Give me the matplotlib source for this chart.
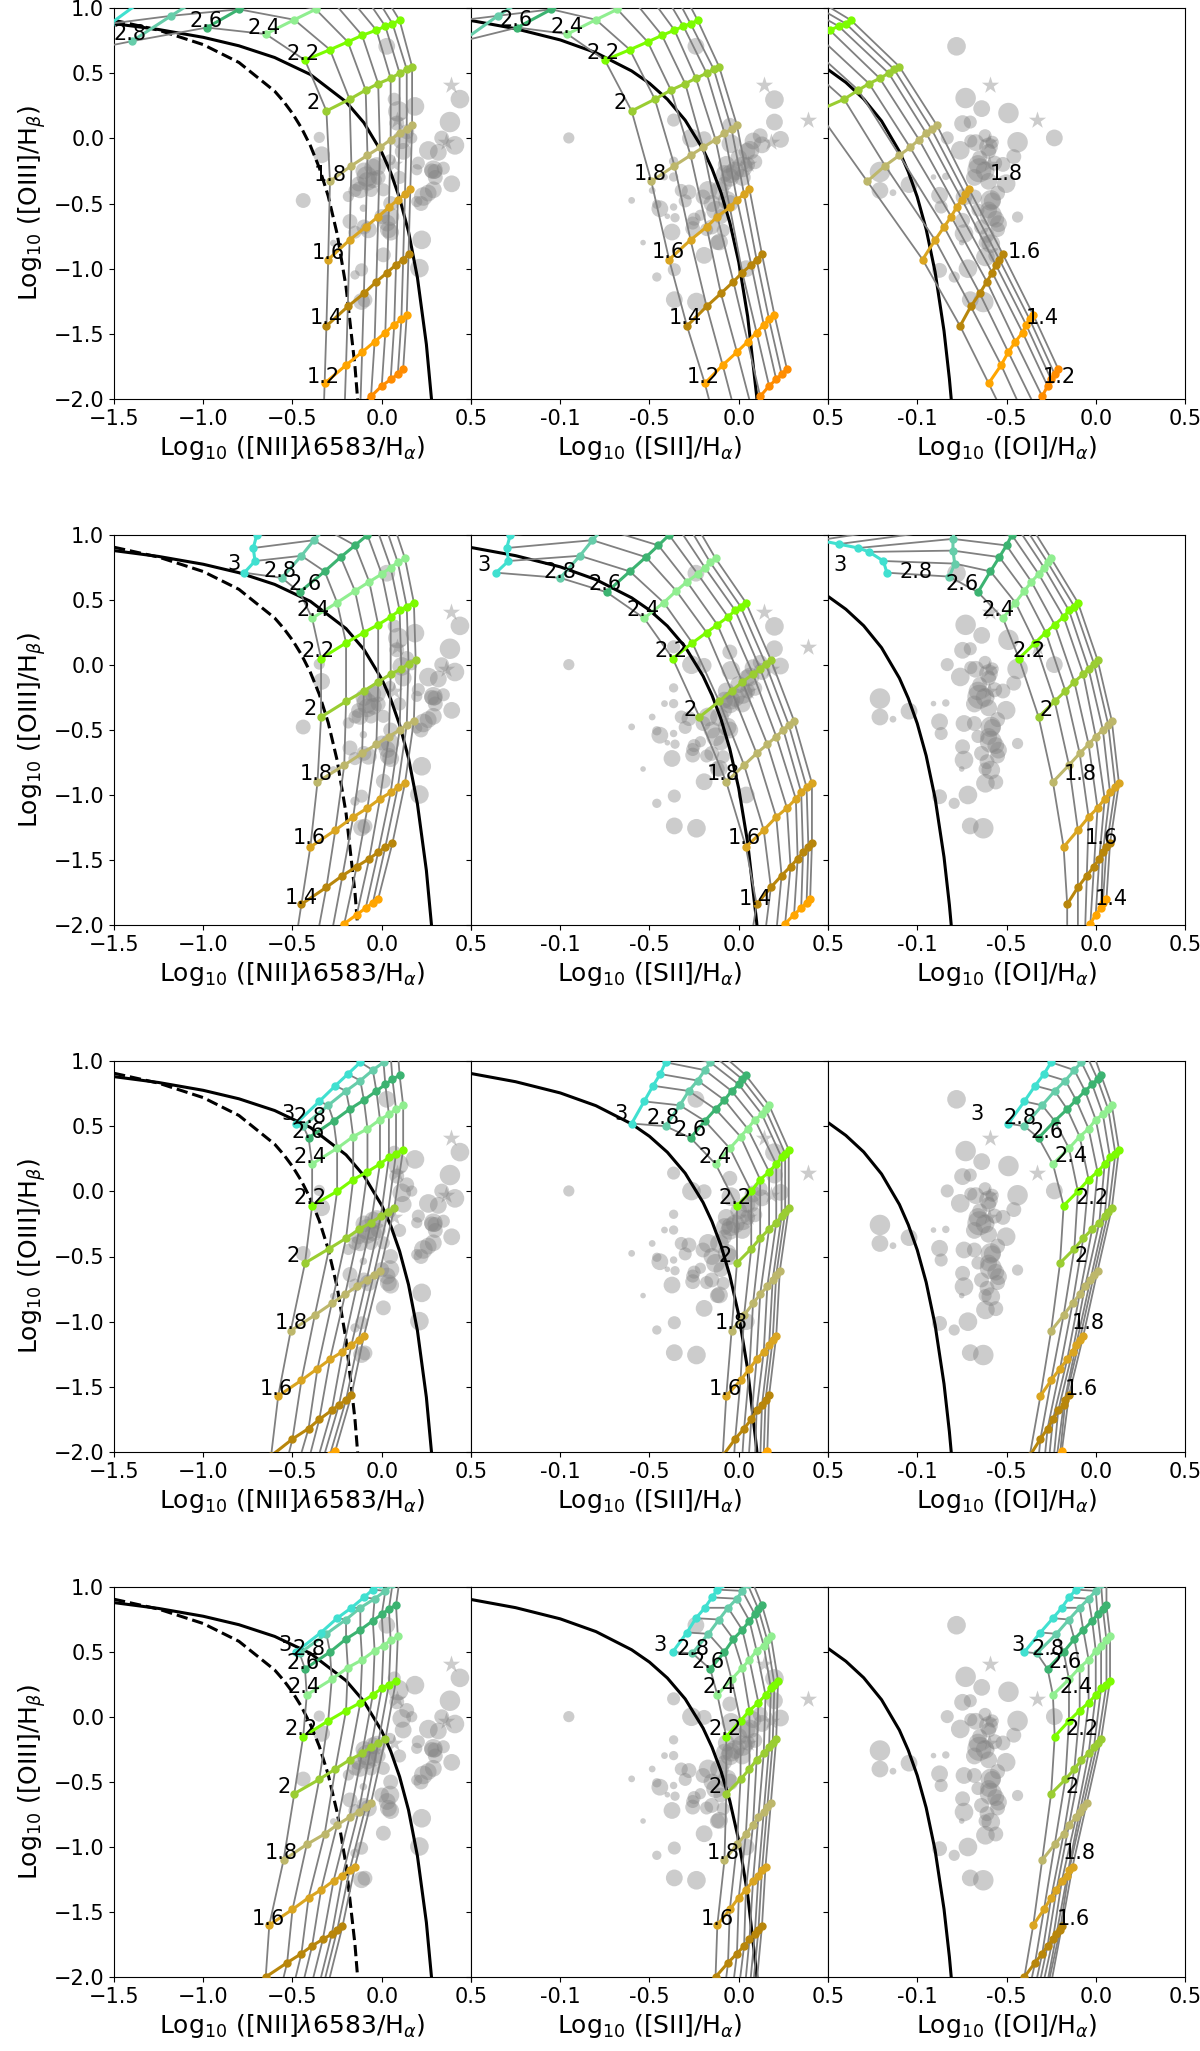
import matplotlib
matplotlib.use('Agg')
import matplotlib.pyplot as plt

curve_colors = ['darkorange', 'orange', 'darkgoldenrod', 'goldenrod', 'darkkhaki', 'yellowgreen',
                'lawngreen', 'lightgreen', 'mediumseagreen', 'mediumaquamarine', 'turquoise']
value_labels = ['1.2', '1.4', '1.6', '1.8', '2', '2.2', '2.4', '2.6', '2.8', '3']
label_start = [0, 1, 2, 2]

# model grids: one list per colored curve, same index = same grey track
r1_y = [[-2.30,-2.16,-2.06,-1.98,-1.90,-1.85,-1.81,-1.77],
        [-1.88,-1.74,-1.64,-1.56,-1.49,-1.43,-1.39,-1.355],
        [-1.44,-1.29,-1.19,-1.10,-1.03,-0.97,-0.93,-0.89],
        [-0.93,-0.78,-0.68,-0.60,-0.53,-0.47,-0.43,-0.39],
        [-0.33,-0.21,-0.13,-0.07,-0.01,0.04,0.07,0.10],
        [0.21,0.30,0.37,0.42,0.46,0.50,0.53,0.55],
        [0.60,0.68,0.74,0.79,0.83,0.86,0.88,0.905],
        [0.80,0.91,0.99,1.06,1.11,1.16,1.19,1.22],
        [0.85,0.99,1.08,1.16,1.22,1.28,1.32,1.35],
        [0.745,0.94,1.07,1.18,1.27,1.35,1.40,1.45],
        [0.65,0.88,1.04,1.17,1.28,1.37,1.44,1.50]]
r1_nii_x = [[-0.33,-0.21,-0.12,-0.06,0.0,0.05,0.09,0.12],
            [-0.32,-0.20,-0.11,-0.04,0.02,0.07,0.11,0.14],
            [-0.31,-0.19,-0.10,-0.03,0.03,0.08,0.12,0.15],
            [-0.30,-0.18,-0.09,-0.02,0.04,0.09,0.13,0.16],
            [-0.29,-0.17,-0.08,-0.01,0.05,0.10,0.14,0.17],
            [-0.31,-0.18,-0.09,-0.02,0.05,0.10,0.14,0.17],
            [-0.43,-0.29,-0.19,-0.11,-0.03,0.02,0.06,0.10],
            [-0.65,-0.49,-0.37,-0.28,-0.20,-0.13,-0.08,-0.04],
            [-0.98,-0.80,-0.67,-0.57,-0.47,-0.40,-0.35,-0.30],
            [-1.40,-1.18,-1.03,-0.91,-0.80,-0.72,-0.66,-0.60],
            [-1.75,-1.52,-1.36,-1.23,-1.12,-1.03,-0.96,-0.90]]
r1_sii_x = [[-0.11,-0.01,0.07,0.12,0.17,0.21,0.24,0.27],
            [-0.19,-0.09,-0.01,0.05,0.10,0.14,0.17,0.20],
            [-0.29,-0.18,-0.10,-0.03,0.02,0.07,0.10,0.13],
            [-0.39,-0.27,-0.18,-0.12,-0.05,-0.01,0.03,0.06],
            [-0.49,-0.36,-0.27,-0.20,-0.13,-0.08,-0.04,-0.01],
            [-0.60,-0.47,-0.38,-0.30,-0.24,-0.18,-0.14,-0.11],
            [-0.75,-0.61,-0.51,-0.43,-0.36,-0.31,-0.27,-0.23],
            [-0.96,-0.80,-0.68,-0.59,-0.51,-0.44,-0.39,-0.35],
            [-1.24,-1.05,-0.92,-0.82,-0.73,-0.65,-0.60,-0.55],
            [-1.55,-1.35,-1.20,-1.09,-0.99,-0.91,-0.85,-0.80],
            [-1.90,-1.71,-1.58,-1.47,-1.38,-1.31,-1.25,-1.20]]
r1_oi_x = [[-0.45,-0.39,-0.34,-0.30,-0.27,-0.25,-0.23,-0.21],
           [-0.60,-0.53,-0.49,-0.45,-0.41,-0.39,-0.37,-0.35],
           [-0.76,-0.70,-0.65,-0.61,-0.58,-0.56,-0.54,-0.52],
           [-0.97,-0.90,-0.85,-0.81,-0.78,-0.75,-0.73,-0.71],
           [-1.28,-1.18,-1.10,-1.04,-0.99,-0.95,-0.92,-0.89],
           [-1.56,-1.41,-1.33,-1.27,-1.21,-1.16,-1.13,-1.10],
           [-1.85,-1.72,-1.63,-1.56,-1.49,-1.44,-1.40,-1.37],
           [-2.30,-2.15,-2.05,-1.96,-1.89,-1.83,-1.79,-1.75]]

r2_y = [[-2.28,-2.15,-2.06,-1.99,-1.92,-1.87,-1.83,-1.80],
        [-1.84,-1.71,-1.62,-1.55,-1.49,-1.44,-1.40,-1.37],
        [-1.40,-1.27,-1.17,-1.10,-1.03,-0.98,-0.94,-0.91],
        [-0.90,-0.77,-0.68,-0.61,-0.55,-0.50,-0.46,-0.43],
        [-0.40,-0.28,-0.20,-0.13,-0.07,-0.03,0.01,0.04],
        [0.05,0.17,0.25,0.31,0.37,0.42,0.45,0.48],
        [0.36,0.48,0.57,0.64,0.70,0.75,0.79,0.82],
        [0.56,0.72,0.83,0.92,1.00,1.06,1.11,1.15],
        [0.67,0.84,0.96,1.05,1.14,1.20,1.26,1.30],
        [0.71,0.80,0.90,1.00,1.10,1.20,1.30,1.40]]
r2_oi_y = r2_y[:8] + [[0.68,0.78,0.88,0.97,1.05,1.12,1.17,1.20],
                      [0.71,0.80,0.87,0.90,0.93,0.96,0.99,1.02]]
r2_nii_x = [[-0.50,-0.37,-0.28,-0.21,-0.14,-0.09,-0.05,-0.02],
            [-0.45,-0.31,-0.22,-0.14,-0.07,-0.02,0.02,0.06],
            [-0.40,-0.26,-0.16,-0.08,-0.01,0.05,0.09,0.13],
            [-0.36,-0.21,-0.11,-0.03,0.04,0.10,0.14,0.18],
            [-0.34,-0.20,-0.10,-0.02,0.05,0.11,0.15,0.19],
            [-0.34,-0.20,-0.10,-0.02,0.05,0.10,0.14,0.18],
            [-0.39,-0.25,-0.15,-0.07,0.0,0.05,0.09,0.13],
            [-0.46,-0.32,-0.23,-0.15,-0.08,-0.03,0.01,0.05],
            [-0.56,-0.45,-0.38,-0.32,-0.27,-0.23,-0.20,-0.17],
            [-0.77,-0.71,-0.72,-0.70,-0.66,-0.62,-0.58,-0.55]]
r2_sii_x = [[0.05,0.14,0.21,0.26,0.31,0.35,0.38,0.40],
            [0.10,0.18,0.24,0.29,0.33,0.36,0.39,0.41],
            [0.04,0.14,0.21,0.27,0.32,0.35,0.38,0.41],
            [-0.07,0.03,0.10,0.16,0.21,0.25,0.28,0.31],
            [-0.22,-0.11,-0.04,0.02,0.08,0.12,0.15,0.18],
            [-0.37,-0.26,-0.18,-0.12,-0.06,-0.02,0.01,0.04],
            [-0.53,-0.42,-0.35,-0.29,-0.23,-0.19,-0.16,-0.13],
            [-0.74,-0.61,-0.52,-0.45,-0.39,-0.34,-0.30,-0.27],
            [-1.00,-0.89,-0.82,-0.76,-0.70,-0.66,-0.63,-0.60],
            [-1.36,-1.29,-1.30,-1.28,-1.26,-1.24,-1.22,-1.20]]
r2_oi_x = [[-0.16,-0.10,-0.06,-0.03,0.0,0.03,0.04,0.06],
           [-0.16,-0.10,-0.05,-0.01,0.02,0.04,0.06,0.08],
           [-0.18,-0.10,-0.04,0.01,0.05,0.08,0.11,0.13],
           [-0.24,-0.15,-0.09,-0.04,0.0,0.04,0.07,0.09],
           [-0.32,-0.23,-0.17,-0.12,-0.07,-0.04,-0.01,0.01],
           [-0.43,-0.34,-0.28,-0.23,-0.18,-0.15,-0.12,-0.10],
           [-0.52,-0.45,-0.40,-0.36,-0.32,-0.29,-0.27,-0.25],
           [-0.66,-0.59,-0.54,-0.50,-0.47,-0.44,-0.42,-0.40],
           [-0.82,-0.79,-0.80,-0.80,-0.79,-0.78,-0.77,-0.76],
           [-1.17,-1.19,-1.27,-1.33,-1.44,-1.55,-1.65,-1.75]]

r3_y = [[-2.45,-2.33,-2.24,-2.17,-2.11,-2.06,-2.02,-1.99],
        [-2.03,-1.90,-1.82,-1.75,-1.68,-1.64,-1.60,-1.565],
        [-1.57,-1.45,-1.36,-1.29,-1.23,-1.18,-1.14,-1.11],
        [-1.07,-0.95,-0.86,-0.79,-0.73,-0.68,-0.64,-0.61],
        [-0.55,-0.44,-0.36,-0.29,-0.24,-0.19,-0.16,-0.13],
        [-0.11,0.0,0.09,0.15,0.21,0.26,0.29,0.32],
        [0.21,0.33,0.42,0.48,0.55,0.59,0.63,0.66],
        [0.41,0.54,0.63,0.70,0.77,0.82,0.86,0.89],
        [0.50,0.66,0.77,0.85,0.93,0.99,1.04,1.08],
        [0.52,0.69,0.81,0.90,0.99,1.06,1.11,1.15]]
r3_nii_x = [[-0.70,-0.58,-0.50,-0.43,-0.37,-0.33,-0.29,-0.26],
            [-0.62,-0.50,-0.41,-0.35,-0.28,-0.24,-0.20,-0.17],
            [-0.58,-0.45,-0.36,-0.29,-0.22,-0.17,-0.13,-0.10],
            [-0.51,-0.375,-0.28,-0.205,-0.14,-0.085,-0.045,-0.01],
            [-0.43,-0.295,-0.20,-0.125,-0.06,-0.005,0.035,0.07],
            [-0.39,-0.25,-0.16,-0.08,-0.01,0.04,0.08,0.12],
            [-0.39,-0.25,-0.16,-0.08,-0.01,0.04,0.08,0.12],
            [-0.41,-0.27,-0.18,-0.10,-0.03,0.02,0.06,0.10],
            [-0.44,-0.30,-0.20,-0.12,-0.05,0.01,0.05,0.09],
            [-0.48,-0.35,-0.26,-0.19,-0.12,-0.07,-0.03,0.0]]
r3_sii_x = [[-0.12,-0.04,0.01,0.05,0.09,0.12,0.14,0.16],
            [-0.09,-0.02,0.03,0.07,0.10,0.13,0.15,0.17],
            [-0.07,0.01,0.06,0.10,0.14,0.17,0.19,0.21],
            [-0.04,0.03,0.08,0.12,0.16,0.19,0.21,0.23],
            [-0.01,0.07,0.12,0.17,0.21,0.24,0.26,0.28],
            [-0.01,0.07,0.12,0.17,0.21,0.24,0.26,0.28],
            [-0.13,-0.05,0.01,0.05,0.09,0.13,0.15,0.17],
            [-0.27,-0.19,-0.13,-0.08,-0.04,0.0,0.02,0.04],
            [-0.41,-0.33,-0.28,-0.23,-0.19,-0.16,-0.14,-0.12],
            [-0.60,-0.53,-0.48,-0.44,-0.41,-0.38,-0.36,-0.34]]
r3_oi_x = [[-0.40,-0.34,-0.30,-0.27,-0.24,-0.22,-0.20,-0.19],
           [-0.37,-0.31,-0.27,-0.24,-0.21,-0.18,-0.17,-0.15],
           [-0.31,-0.25,-0.20,-0.16,-0.13,-0.11,-0.09,-0.07],
           [-0.25,-0.18,-0.13,-0.09,-0.06,-0.03,-0.01,0.01],
           [-0.20,-0.12,-0.07,-0.02,0.02,0.05,0.07,0.09],
           [-0.18,-0.10,-0.04,0.01,0.05,0.08,0.11,0.13],
           [-0.24,-0.15,-0.09,-0.04,0.0,0.04,0.07,0.09],
           [-0.32,-0.23,-0.16,-0.11,-0.06,-0.02,0.01,0.03],
           [-0.40,-0.30,-0.23,-0.17,-0.12,-0.08,-0.05,-0.02],
           [-0.49,-0.40,-0.34,-0.29,-0.25,-0.22,-0.19,-0.17]]

r4_y = [[-2.45,-2.34,-2.27,-2.21,-2.15,-2.11,-2.08,-2.05],
        [-2.00,-1.89,-1.82,-1.76,-1.71,-1.67,-1.64,-1.61],
        [-1.60,-1.48,-1.39,-1.33,-1.26,-1.22,-1.18,-1.15],
        [-1.10,-0.98,-0.90,-0.83,-0.77,-0.73,-0.69,-0.66],
        [-0.59,-0.48,-0.40,-0.33,-0.28,-0.23,-0.20,-0.17],
        [-0.15,-0.03,0.05,0.11,0.17,0.22,0.25,0.28],
        [0.17,0.29,0.38,0.44,0.51,0.55,0.59,0.62],
        [0.37,0.50,0.60,0.67,0.74,0.79,0.83,0.86],
        [0.49,0.64,0.75,0.84,0.91,0.97,1.02,1.06],
        [0.50,0.65,0.76,0.84,0.92,0.98,1.02,1.06]]
r4_nii_x = [[-0.73,-0.61,-0.53,-0.47,-0.41,-0.36,-0.33,-0.30],
            [-0.65,-0.53,-0.45,-0.39,-0.33,-0.28,-0.25,-0.22],
            [-0.63,-0.50,-0.41,-0.34,-0.27,-0.22,-0.18,-0.15],
            [-0.55,-0.42,-0.32,-0.25,-0.18,-0.13,-0.09,-0.06],
            [-0.49,-0.35,-0.26,-0.18,-0.11,-0.06,-0.02,0.02],
            [-0.44,-0.30,-0.20,-0.12,-0.05,0.0,0.04,0.08],
            [-0.42,-0.28,-0.19,-0.11,-0.04,0.01,0.05,0.09],
            [-0.43,-0.29,-0.20,-0.12,-0.05,0.0,0.04,0.08],
            [-0.46,-0.31,-0.20,-0.12,-0.04,0.02,0.06,0.10],
            [-0.48,-0.34,-0.25,-0.17,-0.10,-0.05,-0.01,0.03]]
r4_sii_x = [[-0.17,-0.10,-0.05,-0.01,0.03,0.06,0.08,0.10],
            [-0.13,-0.06,-0.01,0.03,0.06,0.09,0.11,0.13],
            [-0.12,-0.05,0.0,0.04,0.08,0.11,0.13,0.15],
            [-0.08,-0.01,0.04,0.08,0.11,0.14,0.16,0.18],
            [-0.07,0.01,0.06,0.10,0.14,0.17,0.19,0.21],
            [-0.07,0.01,0.06,0.11,0.15,0.18,0.20,0.22],
            [-0.12,-0.04,0.02,0.06,0.10,0.14,0.16,0.18],
            [-0.16,-0.08,-0.03,0.02,0.06,0.09,0.11,0.13],
            [-0.26,-0.17,-0.11,-0.06,-0.01,0.02,0.05,0.07],
            [-0.37,-0.29,-0.24,-0.19,-0.15,-0.12,-0.10,-0.08]]
r4_oi_x = [[-0.47,-0.41,-0.37,-0.34,-0.31,-0.28,-0.27,-0.25],
           [-0.40,-0.34,-0.30,-0.27,-0.24,-0.22,-0.20,-0.19],
           [-0.35,-0.29,-0.25,-0.22,-0.19,-0.16,-0.15,-0.13],
           [-0.30,-0.23,-0.18,-0.15,-0.11,-0.09,-0.07,-0.05],
           [-0.25,-0.17,-0.12,-0.08,-0.04,-0.01,0.01,0.03],
           [-0.23,-0.15,-0.09,-0.04,0.0,0.03,0.06,0.08],
           [-0.24,-0.15,-0.09,-0.04,0.0,0.03,0.06,0.08],
           [-0.27,-0.18,-0.12,-0.07,-0.02,0.01,0.04,0.06],
           [-0.33,-0.22,-0.15,-0.09,-0.04,0.0,0.03,0.06],
           [-0.40,-0.31,-0.24,-0.19,-0.15,-0.11,-0.08,-0.06]]

# label centres, same order as value_labels from label_start on
r1_nii_lx = [-0.33,-0.31,-0.30,-0.29,-0.385,-0.44,-0.66,-0.985,-1.41]
r1_nii_ly = [-1.83,-1.38,-0.88,-0.28,0.27,0.65,0.85,0.90,0.80]
r1_sii_lx = [-0.20,-0.297,-0.397,-0.498,-0.666,-0.761,-0.964,-1.247]
r1_sii_ly = [-1.83,-1.38,-0.875,-0.272,0.27,0.655,0.855,0.91]
r1_oi_lx = [-0.205,-0.298,-0.398,-0.501]
r1_oi_ly = [-1.83,-1.38,-0.873,-0.272]
r2_nii_lx = [-0.451,-0.404,-0.37,-0.404,-0.357,-0.387,-0.429,-0.571,-0.828]
r2_nii_ly = [-1.793,-1.333,-0.839,-0.335,0.107,0.425,0.624,0.72,0.778]
r2_sii_lx = [0.093,0.033,-0.087,-0.271,-0.378,-0.536,-0.75,-0.999,-1.427]
r2_sii_ly = [-1.798,-1.333,-0.841,-0.343,0.107,0.425,0.624,0.714,0.77]
r2_oi_lx = [0.089,0.033,-0.087,-0.279,-0.374,-0.545,-0.751,-1.007,-1.431]
r2_oi_ly = [-1.798,-1.333,-0.841,-0.343,0.107,0.425,0.624,0.714,0.77]
r3_nii_lx = [-0.592,-0.506,-0.498,-0.40,-0.40,-0.413,-0.40,-0.528]
r3_nii_ly = [-1.519,-1.014,-0.497,-0.049,0.265,0.457,0.573,0.59]
r3_sii_lx = [-0.078,-0.044,-0.074,-0.022,-0.13,-0.271,-0.425,-0.661]
r3_sii_ly = [-1.519,-1.014,-0.497,-0.049,0.265,0.47,0.56,0.59]
r3_oi_lx = [-0.082,-0.044,-0.082,-0.022,-0.138,-0.275,-0.425,-0.665]
r3_oi_ly = [-1.513,-1.007,-0.497,-0.049,0.273,0.457,0.56,0.59]
r4_nii_lx = [-0.635,-0.563,-0.545,-0.451,-0.434,-0.442,-0.408,-0.541]
r4_nii_ly = [-1.552,-1.048,-0.541,-0.095,0.232,0.419,0.526,0.552]
r4_sii_lx = [-0.121,-0.087,-0.13,-0.078,-0.108,-0.172,-0.258,-0.442]
r4_sii_ly = [-1.552,-1.048,-0.536,-0.095,0.232,0.424,0.521,0.552]
r4_oi_lx = [-0.125,-0.095,-0.13,-0.074,-0.108,-0.172,-0.267,-0.438]
r4_oi_ly = [-1.552,-1.048,-0.536,-0.095,0.232,0.424,0.521,0.552]

# observed galaxies, the same in every row
nii_obs_x = [0.438,0.382,0.41,0.336,0.261,0.317,0.205,0.196,0.289,0.345,0.298,0.392,0.289,0.233,0.196,0.186,0.093,0.084,0.112,0.168,0.028,0.224,0.211,-0.35,-0.337,-0.44,-0.113,-0.094,-0.15,-0.113,0.009,0.046,0.037,-0.075,-0.178,-0.028,-0.084,-0.047,-0.122,-0.187,0.009,0.046,-0.271,-0.103,
             -0.1,-0.08,-0.05,-0.02,-0.13,-0.06,-0.15,0.03,0.05,0.0,-0.1,-0.15,0.1,0.28,0.3,0.26,0.22,0.12,0.14,0.07,0.05]
nii_obs_y = [0.301,0.125,-0.054,0.002,-0.093,-0.108,-0.19,-0.241,-0.241,-0.229,-0.254,-0.349,-0.395,-0.446,-0.485,0.245,0.207,0.117,-0.011,0.002,0.706,-0.779,-0.996,0.007,-0.126,-0.477,-1.252,-1.24,-1.048,-1.009,-0.894,-0.6,-0.702,-0.702,-0.638,-0.216,-0.293,-0.318,-0.395,-0.446,-0.395,-0.165,-0.804,-0.536,
             -0.25,-0.33,-0.22,-0.3,-0.35,-0.4,-0.4,-0.65,-0.72,-0.6,-0.68,-0.72,-0.3,-0.25,-0.3,-0.42,-0.5,-0.1,0.05,0.3,-0.5]
nii_obs_s = [144,174,144,92,144,117,71,52,144,71,92,117,117,144,52,144,174,92,144,52,117,144,144,52,117,92,117,92,36,71,92,144,117,117,92,144,174,117,117,52,71,52,19,23,
             117,144,117,92,92,71,71,117,117,92,92,71,71,92,92,117,92,117,92,71,92]
sii_obs_x = [-0.952,0.2,0.2,0.234,-0.044,-0.194,-0.365,-0.365,-0.416,-0.485,-0.6,-0.442,-0.459,-0.365,-0.4,-0.357,-0.258,-0.215,-0.374,-0.258,-0.536,-0.194,-0.108,0.042,-0.459,-0.361,-0.361,-0.237,-0.13,-0.044,0.02,-0.172,-0.279,-0.108,-0.065,0.063,-0.151,-0.087,-0.322,-0.24,-0.365,-0.265,0.13,0.046,-0.08,
             -0.05,-0.02,0.02,-0.07,0.0,0.05,-0.08,-0.15,-0.1,-0.2,-0.05,-0.25,-0.18,-0.12,-0.3,0.08,0.12,0.09,-0.05]
sii_obs_y = [0.003,0.297,0.125,-0.008,-0.041,-0.003,-0.176,-0.297,-0.297,-0.4,-0.476,-0.54,-0.506,-0.527,-0.598,-0.609,-0.65,-0.59,-0.719,-0.693,-0.8,-0.898,-0.795,-1.0,-1.064,-1.008,-1.238,-1.256,-0.552,-0.271,-0.22,-0.399,-0.412,-0.4,-0.476,-0.092,-0.68,-0.706,-0.4,0.706,0.14,0.002,-0.05,-0.10,-0.27,
             -0.3,-0.25,-0.3,-0.2,-0.15,-0.2,-0.35,-0.5,-0.6,-0.45,-0.5,-0.62,-0.7,-0.8,-0.48,-0.02,0.02,-0.18,0.1]
sii_obs_s = [52,144,117,117,144,92,36,36,19,19,19,117,36,23,13,36,71,52,117,92,13,117,117,117,36,71,117,144,144,144,174,144,92,144,144,144,92,71,71,117,71,144,117,117,117,
             144,144,117,117,117,92,92,117,92,92,117,71,71,92,71,117,92,92,92]
oi_obs_x = [-0.729,-0.639,-0.489,-0.746,-0.703,-0.832,-0.232,-0.438,-0.459,-0.673,-0.601,-0.759,-0.652,-0.566,-0.502,-1.209,-1.209,-1.046,-1.136,-0.909,-0.84,-0.875,-0.738,-0.866,-0.588,-0.588,-0.746,-0.738,-0.438,-0.545,-0.609,-0.588,-0.751,-0.618,-0.716,-0.875,-0.793,-0.703,-0.63,-0.78,
            -0.66,-0.62,-0.68,-0.6,-0.65,-0.6,-0.7,-0.58,-0.6,-0.56,-0.64,-0.55,-0.68,-0.66,-0.62,-0.58,-0.52,-0.55,-0.62,-0.56]
oi_obs_y = [0.309,0.228,0.194,0.113,0.125,0.003,0.003,-0.03,-0.14,-0.033,-0.066,-0.092,-0.245,-0.19,-0.348,-0.258,-0.4,-0.355,-0.417,-0.297,-0.292,-0.437,-0.45,-0.527,-0.476,-0.59,-0.629,-0.731,-0.604,-0.655,-0.744,-0.808,-0.8,-0.91,-1.0,-1.013,-1.064,-1.238,-1.256,0.706,
            -0.2,-0.25,-0.3,-0.33,-0.15,-0.1,-0.02,-0.48,-0.55,-0.62,-0.68,-0.7,-0.45,-0.55,0.02,-0.03,-0.2,-0.42,-0.8,-0.9]
oi_obs_s = [174,117,174,117,71,71,117,174,92,117,144,144,240,92,144,174,117,117,19,13,23,117,117,71,174,200,92,144,52,117,92,144,13,144,144,92,52,117,174,144,
            144,144,117,117,92,92,71,117,117,117,92,92,92,71,71,71,92,92,71,92]
nii_star_x = [0.39,0.083,0.36,0.07]
sii_star_x = [0.14,0.39,0.178,0.05]
oi_star_x = [-0.59,-0.33,-0.60,-0.60]
star_y = [0.41,0.14,-0.03,-0.20]

# demarcation lines
kewley_x = [-1.5,-1.25,-1.0,-0.8,-0.6,-0.4,-0.2,-0.1,0.0,0.05,0.1,0.15,0.2,0.25,0.28]
kewley_y = [0.88,0.835,0.775,0.71,0.62,0.49,0.28,0.12,-0.108,-0.262,-0.459,-0.716,-1.07,-1.58,-2.02]
kauffmann_x = [-1.5,-1.25,-1.0,-0.8,-0.6,-0.55,-0.5,-0.45,-0.4,-0.35,-0.3,-0.25,-0.2,-0.15,-0.13]
kauffmann_y = [0.906,0.83,0.719,0.582,0.362,0.283,0.191,0.08,-0.056,-0.225,-0.443,-0.733,-1.14,-1.75,-2.09]
sii_line_x = [-1.5,-1.25,-1.0,-0.8,-0.6,-0.5,-0.4,-0.3,-0.2,-0.15,-0.1,-0.05,0.0,0.05,0.1,0.105]
sii_line_y = [0.904,0.841,0.755,0.657,0.517,0.422,0.3,0.139,-0.085,-0.232,-0.414,-0.646,-0.95,-1.367,-1.973,-2.05]
oi_line_x = [-1.5,-1.4,-1.3,-1.2,-1.1,-1.05,-1.0,-0.95,-0.9,-0.85,-0.82,-0.8]
oi_line_y = [0.528,0.429,0.302,0.133,-0.101,-0.257,-0.45,-0.698,-1.025,-1.478,-1.844,-2.146]

x_ticks = [-1.5,-1.0,-0.5,0.0,0.5]
x_ticklabels_right = ['', '-0.1', '-0.5', '0.0', '0.5']
x_titles = [r'Log$_{10}$ ([NII]$\lambda$6583/H$_{\alpha}$)', r'Log$_{10}$ ([SII]/H$_{\alpha}$)', r'Log$_{10}$ ([OI]/H$_{\alpha}$)']

rows = [
    (0, [r1_nii_x, r1_sii_x, r1_oi_x], [r1_y, r1_y, r1_y],
     [(r1_nii_lx, r1_nii_ly), (r1_sii_lx, r1_sii_ly), (r1_oi_lx, r1_oi_ly)]),
    (1, [r2_nii_x, r2_sii_x, r2_oi_x], [r2_y, r2_y, r2_oi_y],
     [(r2_nii_lx, r2_nii_ly), (r2_sii_lx, r2_sii_ly), (r2_oi_lx, r2_oi_ly)]),
    (1, [r3_nii_x, r3_sii_x, r3_oi_x], [r3_y, r3_y, r3_y],
     [(r3_nii_lx, r3_nii_ly), (r3_sii_lx, r3_sii_ly), (r3_oi_lx, r3_oi_ly)]),
    (1, [r4_nii_x, r4_sii_x, r4_oi_x], [r4_y, r4_y, r4_y],
     [(r4_nii_lx, r4_nii_ly), (r4_sii_lx, r4_sii_ly), (r4_oi_lx, r4_oi_ly)]),
]
# pixel edges of the panels
col_edges = [114, 471, 828, 1185]
row_edges = [(8, 399), (535, 925), (1061, 1452), (1587, 1977)]
W, H = 1200, 2051

obs = [(nii_obs_x, nii_obs_y, nii_obs_s, nii_star_x),
       (sii_obs_x, sii_obs_y, sii_obs_s, sii_star_x),
       (oi_obs_x, oi_obs_y, oi_obs_s, oi_star_x)]

fig = plt.figure(figsize=(W / 100, H / 100), dpi=100)

for r, (first_color, xgrids, ygrids, labels) in enumerate(rows):
    top, bottom = row_edges[r]
    for c in range(3):
        ax = fig.add_axes([col_edges[c] / W, 1 - bottom / H, (col_edges[c + 1] - col_edges[c]) / W, (bottom - top) / H])
        ox, oy, os_, sx = obs[c]
        ax.scatter(ox, oy, s=[v * 1.25 for v in os_], color='gray', alpha=0.4, linewidths=0, zorder=1)
        ax.scatter(sx, star_y, s=170, marker='*', color='gray', alpha=0.4, linewidths=0, zorder=1)

        if c == 0:
            ax.plot(kewley_x, kewley_y, color='k', lw=2.2, zorder=2)
            ax.plot(kauffmann_x, kauffmann_y, color='k', lw=2.2, ls='--', zorder=2)
        elif c == 1:
            ax.plot(sii_line_x, sii_line_y, color='k', lw=2.2, zorder=2)
        else:
            ax.plot(oi_line_x, oi_line_y, color='k', lw=2.2, zorder=2)

        # r1 OI has fewer curves on the plot than the y grid holds
        xg, yg = xgrids[c], ygrids[c][:len(xgrids[c])]
        for j in range(8):
            ax.plot([cx[j] for cx in xg], [cy[j] for cy in yg], color='gray', lw=1.3, zorder=3)
        for i, (cx, cy) in enumerate(zip(xg, yg)):
            ax.plot(cx, cy, color=curve_colors[i + first_color], lw=2.2, marker='o', ms=5, zorder=4)

        lx, ly = labels[c]
        for txt, tx, ty in zip(value_labels[label_start[r]:], lx, ly):
            ax.text(tx, ty, txt, fontsize=15, ha='center', va='center', zorder=5)

        ax.set_xlim(-1.5, 0.5)
        ax.set_ylim(-2, 1)
        ax.set_xticks(x_ticks)
        if c > 0:
            ax.set_xticklabels(x_ticklabels_right)
            ax.set_yticklabels([])
        else:
            ax.set_ylabel(r'Log$_{10}$ ([OIII]/H$_{\beta}$)', fontsize=18)
        ax.set_xlabel(x_titles[c], fontsize=18)
        ax.tick_params(labelsize=15)

fig.savefig('out.png', dpi=100)
